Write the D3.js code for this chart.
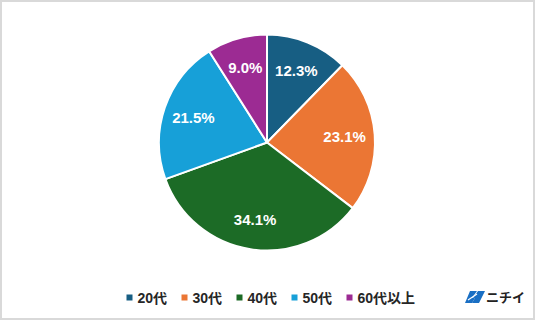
<!DOCTYPE html>
<html><head><meta charset="utf-8">
<script src="https://cdn.jsdelivr.net/npm/d3@7"></script>
<style>
html,body{margin:0;padding:0;background:#fff;}
svg{display:block;font-family:"Liberation Sans","Noto Sans CJK JP",Arial,sans-serif;}
</style></head>
<body>
<script>
const categories = ["20代","30代","40代","50代","60代以上"];
const values = [12.3, 23.1, 34.1, 21.5, 9.0];
const colors = ["#175e83","#eb7634","#1c6b26","#17a0d8","#9c2b93"];
const logoText = "ニチイ";

const W = 536, H = 321;
const svg = d3.select("body").append("svg").attr("width", W).attr("height", H);

svg.append("rect").attr("x",1).attr("y",1).attr("width",533).attr("height",318)
  .attr("fill","#fff").attr("stroke","#d9d9d9").attr("stroke-width",2);

const cx = 267, cy = 142.5, r = 108;
const pie = d3.pie().sort(null).value(d => d);
const arcs = pie(values);
const arc = d3.arc().innerRadius(0).outerRadius(r);
const labelArc = d3.arc().innerRadius(r*0.72).outerRadius(r*0.72);

const g = svg.append("g").attr("transform", `translate(${cx},${cy})`);
g.selectAll("path").data(arcs).join("path")
  .attr("d", arc).attr("fill", (d,i) => colors[i])
  .attr("stroke","#fff").attr("stroke-width",2).attr("stroke-linejoin","round");

g.selectAll("text").data(arcs).join("text")
  .attr("transform", d => `translate(${labelArc.centroid(d)})`)
  .attr("text-anchor","middle").attr("dy","0.36em")
  .attr("fill","#fff").attr("font-weight","bold").attr("font-size",15)
  .text(d => d.data.toFixed(1) + "%");

// legend
const legX = d3.scalePoint().domain(categories).range([126.5, 346.5]);
const leg = svg.append("g");
categories.forEach((c,i) => {
  const x = legX(c);
  leg.append("rect").attr("x", x).attr("y", 294.5).attr("width", 6).attr("height", 6).attr("fill", colors[i]);
  leg.append("text").attr("x", x + 11).attr("y", 298).attr("dy","0.36em")
    .attr("font-size",14).attr("font-weight","bold").attr("fill","#262626").text(c);
});

// logo
const lg = svg.append("g").attr("transform","translate(465,291)");
lg.append("path").attr("d","M5,0 L12,0 L7,7 L10,7 L7,12 L0,12 Z").attr("fill","#1a6fc4");
lg.append("path").attr("d","M13,0 L20,0 L14,12 L7,12 L10,7 L8,7 Z").attr("fill","#1a6fc4");
lg.append("path").attr("d","M3,9 L12,3").attr("stroke","#fff").attr("stroke-width",1.2);
svg.append("text").attr("x",486).attr("y",297.5).attr("dy","0.36em")
  .attr("font-size",13).attr("font-weight","bold").attr("fill","#222")
  .attr("font-family","'Noto Sans CJK JP',sans-serif").text(logoText);
</script>
</body></html>
